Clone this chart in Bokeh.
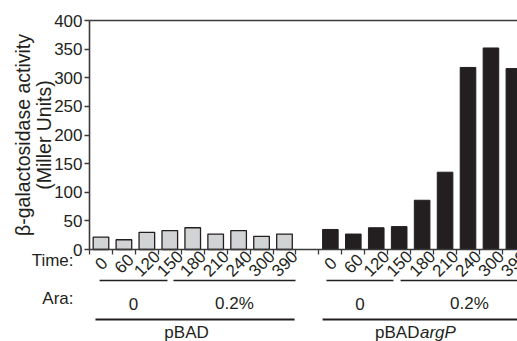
import math
from bokeh.plotting import figure
from bokeh.models import Range1d, FixedTicker, LinearAxis
from bokeh.core.properties import value
from bokeh.embed import file_html
from bokeh.resources import INLINE

# ---- data ----
times = ["0", "60", "120", "150", "180", "210", "240", "300", "390"]
pbad = [21.5, 17, 30, 33, 38, 27, 33, 23, 27]
pbad_argp = [35, 27, 38, 40, 86, 135, 318, 352, 316]
ara_labels = ["0", "0.2%", "0", "0.2%"]
construct_labels = ["pBAD", "pBADargP"]
y_ticks = [0, 50, 100, 150, 200, 250, 300, 350, 400]

FONT = "Liberation Sans"
INK = "#231f20"
AXIS = "#3a3a3a"
FS = "17px"

W, H = 517, 341
SLOT = 22.94            # px per category slot
YPX = 229 / 400.0       # px per Miller unit
LEFT_PX, ZERO_PX, TOP_PX = 89, 249, 20

x1 = list(range(len(times)))
x2 = [i + len(times) + 1 for i in range(len(times))]

x_start = -0.5 - LEFT_PX / SLOT
x_end = -0.5 + (W - LEFT_PX) / SLOT
y_end = 400 + TOP_PX / YPX
y_start = -(H - ZERO_PX) / YPX


def below(px):
    """data y of a point px pixels below the zero line"""
    return -px / YPX


p = figure(width=W, height=H, output_backend="svg", toolbar_location=None,
           x_range=Range1d(x_start, x_end), y_range=Range1d(y_start, y_end),
           x_axis_location=None, y_axis_location=None,
           min_border_left=0, min_border_right=0, min_border_top=0, min_border_bottom=0)
p.outline_line_color = None
p.grid.grid_line_color = None

p.vbar(x=x1, top=pbad, width=0.68, fill_color="#d2d3d5", line_color=INK, line_width=1.3)
p.vbar(x=x2, top=pbad_argp, width=0.68, fill_color=INK, line_color=INK, line_width=1)

# x axis at y=0: line and slot-boundary ticks
xa = LinearAxis(fixed_location=0, bounds=(-0.5, x_end))
xa.ticker = FixedTicker(ticks=[], minor_ticks=[i + 0.5 for i in range(-1, 19)])
xa.major_tick_line_color = None
xa.major_tick_out = 0
xa.minor_tick_line_color = AXIS
xa.minor_tick_line_width = 1.3
xa.minor_tick_out = 5
xa.minor_tick_in = 0
xa.axis_line_color = AXIS
xa.axis_line_width = 1.6
xa.major_label_text_font_size = "0px"
p.add_layout(xa, "below")

# y axis at x=-0.5
ya = LinearAxis(fixed_location=-0.5, bounds=(0, 400))
ya.ticker = FixedTicker(ticks=y_ticks, minor_ticks=[])
ya.major_tick_out = 5
ya.major_tick_in = 0
ya.major_tick_line_color = AXIS
ya.major_tick_line_width = 1.3
ya.axis_line_color = AXIS
ya.axis_line_width = 1.6
ya.major_label_text_font = FONT
ya.major_label_text_font_size = FS
ya.major_label_text_color = INK
ya.major_label_standoff = 2
ya.axis_label = "\u03b2-galactosidase activity\n(Miller Units)"
ya.axis_label_text_font = FONT
ya.axis_label_text_font_size = "19.5px"
ya.axis_label_text_font_style = "normal"
ya.axis_label_text_color = INK
ya.axis_label_text_line_height = 0.98
ya.axis_label_standoff = -4
p.add_layout(ya, "left")

# top frame line
p.segment(x0=[-0.5], y0=[400], x1=[x_end], y1=[400], line_color=AXIS, line_width=1.6)

txt_kw = dict(text_font=value(FONT), text_font_size=value(FS), text_color=INK,
              text_baseline="middle")

# rotated time labels, centred under each bar
p.text(x=x1 + x2, y=[below(14)] * len(x1 + x2), text=times + times, angle=math.pi / 4,
       text_align="center", **txt_kw)

# row titles
p.text(x=[-0.5, -0.5], y=[below(11), below(49)], text=["Time:", "Ara:"], x_offset=-16,
       text_align="right", **txt_kw)

# Ara group lines and labels
ara_lines = [(-0.06, 2.9), (3.16, 8.48), (9.83, 12.75), (13.06, 19.06)]
p.segment(x0=[a for a, b in ara_lines], x1=[b for a, b in ara_lines],
          y0=[below(31)] * 4, y1=[below(31)] * 4, line_color=INK, line_width=1.3)
p.text(x=[(a + b) / 2 for a, b in ara_lines], y=[below(54)] * 4, text=ara_labels,
       text_align="center", **txt_kw)

# construct lines and labels
con_lines = [(-0.24, 8.44), (9.66, 19.5)]
p.segment(x0=[a for a, b in con_lines], x1=[b for a, b in con_lines],
          y0=[below(70)] * 2, y1=[below(70)] * 2, line_color=INK, line_width=2)
p.text(x=[3.73], y=[below(83)], text=[construct_labels[0]], text_align="center", **txt_kw)
p.text(x=[13.71], y=[below(83)], text=["pBAD"], x_offset=4, text_align="right", **txt_kw)
p.text(x=[13.71], y=[below(83)], text=["argP"], x_offset=4.5, text_align="left",
       text_font_style="italic", **txt_kw)

open("out.html", "w").write(file_html(p, INLINE))
